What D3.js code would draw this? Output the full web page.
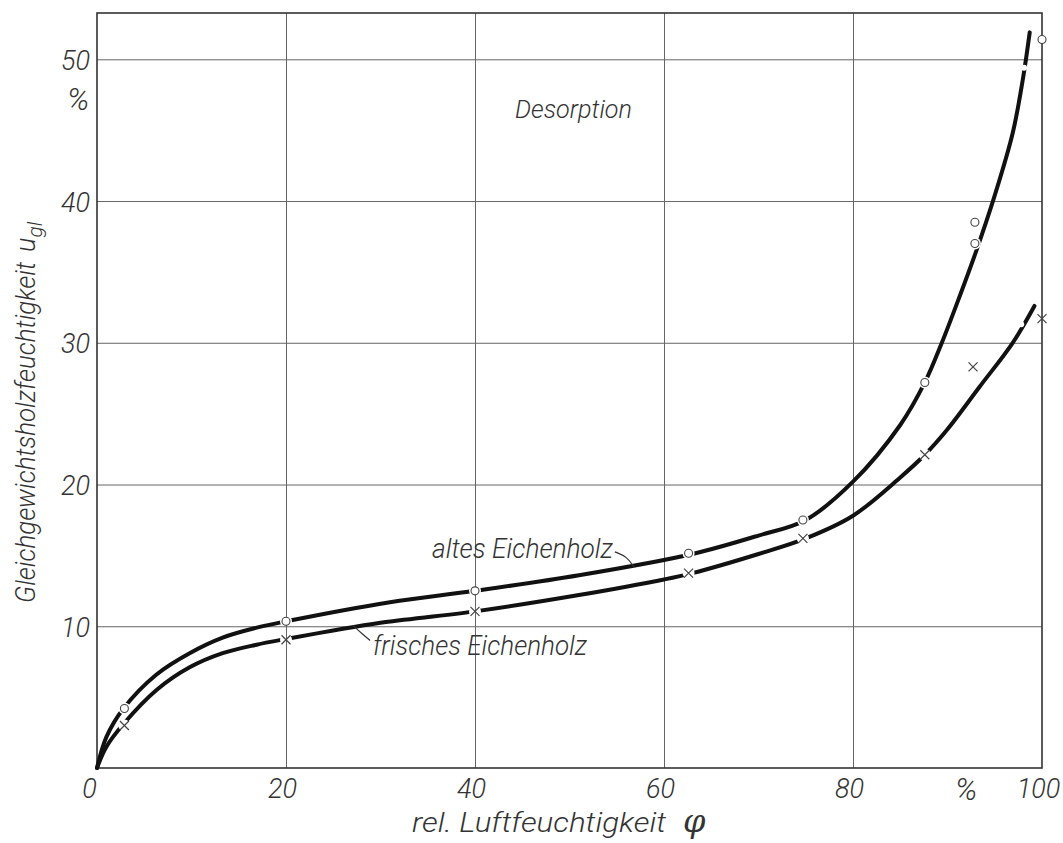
<!DOCTYPE html>
<html>
<head>
<meta charset="utf-8">
<script src="https://cdnjs.cloudflare.com/ajax/libs/d3/7.8.5/d3.min.js"></script>
<style>
	body { margin: 0; background: #fff; }
	text { font-family: Roboto, "DejaVu Sans Condensed", sans-serif; font-weight: 300; font-style: italic; fill: #333; }
</style>
</head>
<body>
<div id="chart"></div>
<script>
// values (x = rel. humidity %, y = moisture %)
var xTicks = [0, 20, 40, 60, 80, 100];
var yTicks = [10, 20, 30, 40, 50];

var altesCurve = [[0, 0], [1, 2.2], [2.8, 4.2], [6.3, 6.6], [9.8, 8.1], [13.3, 9.2], [16.9, 9.9], [20, 10.35],
	[31, 11.7], [40, 12.5], [51, 13.6], [63, 15.1], [70, 16.4], [75, 17.5],
	[80, 20.2], [85, 24.2], [87.6, 27.2], [89.4, 30], [91.3, 33.3], [93, 36.4], [95, 40.4],
	[96.9, 44.8], [98, 48.7], [98.7, 51.9]];
var frischesCurve = [[0, 0], [1, 1.5], [2.8, 3.1], [6.3, 5.5], [9.8, 7.1], [13.3, 8.1], [16.9, 8.7], [20, 9.1],
	[25, 9.7], [30, 10.25], [40, 11.05], [51, 12.2], [60, 13.3], [63, 13.75], [70, 15.1],
	[75, 16.2], [80, 17.8], [85, 20.5], [87.6, 22.1], [90, 23.9], [93.4, 26.9], [96.9, 30], [99.2, 32.6]];

var altesPoints = [[2.9, 4.2], [20, 10.35], [40, 12.5], [62.6, 15.15], [74.7, 17.5], [87.6, 27.2],
	[92.9, 38.5], [92.9, 37.0], [100, 51.4]];
var frischesPoints = [[2.9, 3.0], [20, 9.05], [40, 11.05], [62.6, 13.75], [74.7, 16.2], [87.6, 22.1],
	[92.7, 28.3], [100, 31.7]];

// small breaks in the drawn curves near the top
var curveBreaks = [[98.1, 49.4], [97.8, 31.3]];

// leader lines of the curve labels
var altesLeader = [[54.8, 15.25], [56.1, 14.9], [56.8, 14.2]];
var frischesLeader = [[28.9, 9.0], [28.0, 9.5], [27.1, 10.05]];

//
// Chart set up
//
var _width = 1063,
	_height = 843;

var plot = { left: 97, right: 1042, top: 13, bottom: 768 };
plot.width = plot.right - plot.left;
plot.height = plot.bottom - plot.top;

var x = d3.scaleLinear().domain([0, 100]).range([plot.left, plot.right]);
var yPerUnit = (plot.bottom - 59.3) / 50;
var y = d3.scaleLinear().domain([0, plot.height / yPerUnit]).range([plot.bottom, plot.top]);

var svg = d3.select("#chart").append("svg")
	.attr("width", _width)
	.attr("height", _height);

// Grid
svg.append("g")
	.attr("transform", "translate(0," + plot.bottom + ")")
	.call(d3.axisBottom(x).tickValues(xTicks.slice(1, -1)).tickSize(-plot.height).tickFormat(""))
	.call(function(g) { g.select(".domain").remove(); })
	.selectAll("line").attr("stroke", "#666").attr("stroke-width", 1);

svg.append("g")
	.attr("transform", "translate(" + plot.left + ",0)")
	.call(d3.axisLeft(y).tickValues(yTicks).tickSize(-plot.width).tickFormat(""))
	.call(function(g) { g.select(".domain").remove(); })
	.selectAll("line").attr("stroke", "#666").attr("stroke-width", 1);

// Frame
svg.append("rect")
	.attr("x", plot.left)
	.attr("y", plot.top)
	.attr("width", plot.width)
	.attr("height", plot.height)
	.attr("fill", "none")
	.attr("stroke", "#333")
	.attr("stroke-width", 1.6);

// Tick labels
var xAxis = svg.append("g")
	.attr("transform", "translate(0," + plot.bottom + ")")
	.call(d3.axisBottom(x).tickValues(xTicks).tickSize(0).tickFormat(d3.format("d")));
xAxis.select(".domain").remove();
xAxis.selectAll("text")
	.attr("y", 30).attr("dy", 0)
	.attr("dx", function(d) { return d === 0 ? -8 : -4; })
	.style("font-size", "27px")
	.attr("fill", "#333");

var yAxis = svg.append("g")
	.attr("transform", "translate(" + plot.left + ",0)")
	.call(d3.axisLeft(y).tickValues(yTicks).tickSize(0).tickPadding(7));
yAxis.select(".domain").remove();
yAxis.selectAll("text")
	.attr("dy", 0).attr("y", 10)
	.style("font-size", "27px")
	.attr("fill", "#333");

svg.append("text")
	.attr("x", 78).attr("y", 110)
	.attr("text-anchor", "middle")
	.style("font-size", "31px")
	.text("%");

svg.append("text")
	.attr("x", 966).attr("y", 800)
	.attr("text-anchor", "middle")
	.style("font-size", "31px")
	.text("%");

//
// Curves
//
var line = d3.line()
	.x(function(d) { return x(d[0]); })
	.y(function(d) { return y(d[1]); })
	.curve(d3.curveCatmullRom.alpha(0.5));

var mask = svg.append("defs").append("mask").attr("id", "gaps");
mask.append("rect")
	.attr("width", _width).attr("height", _height).attr("fill", "#fff");
mask.selectAll("circle.p")
	.data(altesPoints.concat(frischesPoints))
	.enter().append("circle")
	.attr("cx", function(d) { return x(d[0]); })
	.attr("cy", function(d) { return y(d[1]); })
	.attr("r", 6)
	.attr("fill", "#000");
mask.selectAll("circle.b")
	.data(curveBreaks)
	.enter().append("circle")
	.attr("cx", function(d) { return x(d[0]); })
	.attr("cy", function(d) { return y(d[1]); })
	.attr("r", 3)
	.attr("fill", "#000");

var curves = svg.append("g").attr("mask", "url(#gaps)");
[altesCurve, frischesCurve].forEach(function(c) {
	curves.append("path")
		.datum(c)
		.attr("d", line)
		.attr("fill", "none")
		.attr("stroke", "#111")
		.attr("stroke-width", 4)
		.attr("stroke-linecap", "round");
});

// Markers
svg.selectAll("circle.altes")
	.data(altesPoints)
	.enter().append("circle")
	.classed("altes", true)
	.attr("cx", function(d) { return x(d[0]); })
	.attr("cy", function(d) { return y(d[1]); })
	.attr("r", 4)
	.attr("fill", "#fff")
	.attr("stroke", "#444")
	.attr("stroke-width", 1.1);

svg.selectAll("path.frisches")
	.data(frischesPoints)
	.enter().append("path")
	.classed("frisches", true)
	.attr("d", function(d) {
		var cx = x(d[0]), cy = y(d[1]), s = 4.5;
		return "M" + (cx - s) + "," + (cy - s) + "L" + (cx + s) + "," + (cy + s) +
			"M" + (cx - s) + "," + (cy + s) + "L" + (cx + s) + "," + (cy - s);
	})
	.attr("stroke", "#444")
	.attr("stroke-width", 1.2)
	.attr("fill", "none");

// Leaders
var leader = d3.line()
	.x(function(d) { return x(d[0]); })
	.y(function(d) { return y(d[1]); })
	.curve(d3.curveBasis);

[altesLeader, frischesLeader].forEach(function(l) {
	svg.append("path")
		.datum(l)
		.attr("d", leader)
		.attr("fill", "none")
		.attr("stroke", "#333")
		.attr("stroke-width", 1.2);
});

//
// Labels
//
function label(tx, ty, txt, len, size) {
	return svg.append("text")
		.attr("x", tx).attr("y", ty)
		.attr("textLength", len)
		.attr("lengthAdjust", "spacingAndGlyphs")
		.style("font-size", size + "px")
		.text(txt);
}

label(515, 118, "Desorption", 117, 25);
label(432, 558, "altes Eichenholz", 181, 27);
label(373, 655, "frisches Eichenholz", 214, 27);
label(412, 832, "rel. Luftfeuchtigkeit", 254, 28);

svg.append("text")
	.attr("x", 683).attr("y", 832)
	.style("font-size", "32px")
	.style("font-family", "DejaVu Serif, serif")
	.style("font-weight", "normal")
	.text("\u03c6");

var yLab = svg.append("text")
	.attr("transform", "translate(35,603) rotate(-90)")
	.style("font-size", "27px");
yLab.append("tspan")
	.attr("textLength", 341)
	.attr("lengthAdjust", "spacingAndGlyphs")
	.text("Gleichgewichtsholzfeuchtigkeit");
yLab.append("tspan").attr("dx", 10).text("u");
yLab.append("tspan").attr("dy", 7).style("font-size", "21px").text("gl");
</script>
</body>
</html>
